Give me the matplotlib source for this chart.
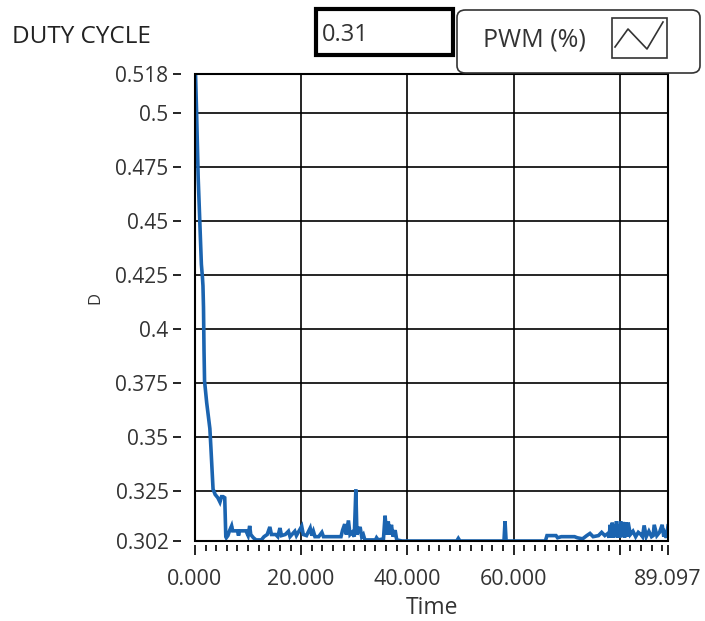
import numpy as np
import matplotlib
matplotlib.use('Agg')
import matplotlib.pyplot as plt
from matplotlib.patches import Rectangle, FancyBboxPatch
from matplotlib.lines import Line2D

plt.rcParams['font.family'] = ['Open Sans', 'DejaVu Sans']

# datos, por tramos (tiempo, ciclo de trabajo)
t_bajada = [0.0, 0.1, 0.3, 0.6, 0.9, 1.2, 1.4, 1.5, 1.6, 1.7,
            1.8, 2.2, 2.6, 2.8, 3.0, 3.2, 3.4, 3.8, 4.3, 4.7,
            5.0, 5.3, 5.6, 5.8]
d_bajada = [0.518, 0.518, 0.500, 0.470, 0.450, 0.430, 0.424, 0.420, 0.410, 0.390,
            0.376, 0.366, 0.358, 0.354, 0.345, 0.335, 0.326, 0.3235, 0.322, 0.320,
            0.3225, 0.3225, 0.322, 0.304]

t_ruido = [5.9, 6.2, 6.5, 6.9, 7.1, 8.0, 8.2, 8.4, 9.6, 10.0,
           10.3, 10.5, 11.0, 11.5, 12.5, 13.0, 13.6, 14.1, 14.4, 15.2,
           15.6, 16.0, 16.3, 17.0, 17.6, 17.9, 18.8, 19.1, 20.1, 20.4,
           21.0, 21.7, 22.0, 22.3, 22.6, 23.3, 23.9, 24.2, 25.0, 27.5,
           27.8, 28.2, 28.5, 28.9, 29.2, 29.6, 30.0, 30.3, 30.5, 31.1,
           31.4, 31.7, 32.0, 34.0, 34.2, 34.5, 35.5, 35.8, 36.1, 36.4,
           36.7, 37.0, 37.3, 37.7, 38.0, 39.0]
d_ruido = [0.3035, 0.3045, 0.3067, 0.309, 0.3067, 0.3067, 0.3045, 0.3067, 0.3067, 0.3045,
           0.309, 0.305, 0.3035, 0.3025, 0.3025, 0.304, 0.305, 0.3085, 0.305, 0.305,
           0.304, 0.308, 0.3045, 0.305, 0.3065, 0.304, 0.3065, 0.3045, 0.3088, 0.305,
           0.3045, 0.308, 0.3045, 0.3065, 0.304, 0.304, 0.306, 0.304, 0.304, 0.304,
           0.307, 0.3098, 0.305, 0.3115, 0.305, 0.306, 0.304, 0.3258, 0.305, 0.3085,
           0.304, 0.305, 0.3025, 0.3025, 0.3035, 0.3025, 0.303, 0.3137, 0.305, 0.311,
           0.305, 0.3095, 0.304, 0.307, 0.3025, 0.302]

t_plano = [49.3, 49.6, 49.9, 58.2, 58.4, 58.6, 66.0, 66.3, 68.0, 68.3,
           69.0, 71.5, 72.0, 73.0, 73.8, 74.4, 75.0, 76.0, 76.6, 77.2]
d_plano = [0.302, 0.3032, 0.302, 0.302, 0.3112, 0.302, 0.302, 0.3045, 0.3045, 0.3035,
           0.304, 0.304, 0.3035, 0.303, 0.3045, 0.3055, 0.304, 0.3045, 0.306, 0.3045]

t_final = [77.8, 78.0, 78.2, 78.4, 78.6, 78.8, 79.0, 79.2, 79.4, 79.6,
           79.8, 80.0, 80.2, 80.4, 80.7, 80.9, 81.2, 81.4, 81.6, 82.0,
           82.5, 83.0, 83.5, 84.0, 84.3, 84.6, 85.0, 85.5, 86.0, 86.3,
           86.5, 87.0, 87.5, 88.0, 88.3, 88.5, 88.8, 89.097]
d_final = [0.3055, 0.3035, 0.3095, 0.3035, 0.3105, 0.3035, 0.3095, 0.304, 0.3112, 0.3035,
           0.3095, 0.3035, 0.311, 0.304, 0.3108, 0.3035, 0.3105, 0.304, 0.3105, 0.305,
           0.3065, 0.304, 0.306, 0.305, 0.304, 0.3092, 0.304, 0.3065, 0.304, 0.3045,
           0.3095, 0.3045, 0.306, 0.3095, 0.304, 0.3055, 0.3035, 0.309]

tiempo = t_bajada + t_ruido + t_plano + t_final
duty = d_bajada + d_ruido + d_plano + d_final

x_ticks = [0, 20, 40, 60, 80, 89.097]
x_labels = ['0.000', '20.000', '40.000', '60.000', '', '89.097']
y_ticks = [0.302, 0.325, 0.35, 0.375, 0.4, 0.425, 0.45, 0.475, 0.5, 0.518]
y_labels = ['0.302', '0.325', '0.35', '0.375', '0.4', '0.425', '0.45', '0.475', '0.5', '0.518']
valor_actual = '0.31'
nombre_serie = 'PWM (%)'

W, H = 705, 621
fig = plt.figure(figsize=(W / 100, H / 100), dpi=100)
ax = fig.add_axes([195 / W, 1 - 541 / H, 473 / W, 467 / H])

ax.plot(tiempo, duty, color='#1b64b0', lw=2.6, solid_joinstyle='miter')
ax.set_xlim(0, 89.097)
ax.set_ylim(0.302, 0.518)

# ticks separados del marco como en LabVIEW
ax.spines['left'].set_position(('outward', 10))
ax.spines['bottom'].set_position(('outward', 3))
for s in ['left', 'bottom', 'top', 'right']:
    ax.spines[s].set_visible(False)
ax.add_patch(Rectangle((0, 0), 1, 1, transform=ax.transAxes, fill=False,
                       edgecolor='black', lw=1.5, clip_on=False, zorder=5))

ax.set_xticks(x_ticks)
ax.set_xticklabels(x_labels)
ax.set_xticks(np.arange(0, 89, 2), minor=True)
ax.set_yticks(y_ticks)
ax.set_yticklabels(y_labels)
ax.tick_params(axis='x', which='major', length=7, width=1.2, pad=10, labelsize=15.5, labelcolor='#333333')
ax.tick_params(axis='x', which='minor', length=4, width=1.2)
ax.tick_params(axis='y', length=6, width=1.2, pad=3, labelsize=15, labelcolor='#333333')

for v in [20, 40, 60, 80]:
    ax.axvline(v, color='black', lw=1.2, zorder=0)
for v in y_ticks[1:-1]:
    ax.axhline(v, color='black', lw=1.2, zorder=0)

fig.text(432 / W, 1 - 608 / H, 'Time', ha='center', va='center', fontsize=16.5, color='#333333')
fig.text(95 / W, 1 - 298 / H, 'D', ha='center', va='center', rotation=90, fontsize=12, color='#333333')

# encabezado: titulo, indicador numerico y leyenda
fig.text(12 / W, 1 - 37 / H, 'DUTY CYCLE', ha='left', va='center', fontsize=17.5, color='#222222')
fig.patches.append(Rectangle((316 / W, 1 - 55 / H), 137 / W, 46 / H, transform=fig.transFigure,
                             fill=True, facecolor='white', edgecolor='black', lw=3))
fig.text(322 / W, 1 - 35 / H, valor_actual, ha='left', va='center', fontsize=17, color='#333333')

fig.patches.append(FancyBboxPatch((457 / W, 1 - 73 / H), 243 / W, 63 / H, transform=fig.transFigure,
                                  boxstyle='round,pad=0,rounding_size=0.012', fill=False,
                                  edgecolor='#333333', lw=1.2))
fig.text(483 / W, 1 - 40 / H, nombre_serie, ha='left', va='center', fontsize=18, color='#333333')
fig.patches.append(Rectangle((612 / W, 1 - 58 / H), 55 / W, 40 / H, transform=fig.transFigure,
                             fill=False, edgecolor='#333333', lw=1.2))
zx = np.array([615, 628, 647, 663]) / W
zy = 1 - np.array([47, 29, 49, 22]) / H
fig.lines.append(Line2D(zx, zy, transform=fig.transFigure, color='#333333', lw=1.2))

fig.savefig('out.png', dpi=100)
